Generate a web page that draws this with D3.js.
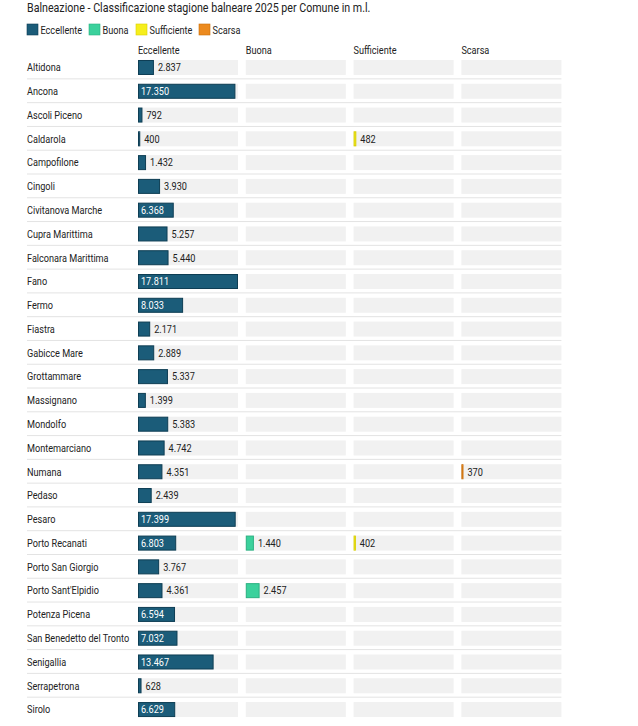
<!DOCTYPE html>
<html>
<head>
<meta charset="utf-8">
<title>Balneazione</title>
<script src="https://cdn.jsdelivr.net/npm/d3@7"></script>
<style>
  body { margin: 0; background: #fff; font-family: Roboto, "Noto Sans", sans-serif; }
  svg text { fill: #222; }
</style>
</head>
<body>
<script>
// data (metri lineari)
var comuni = ["Altidona", "Ancona", "Ascoli Piceno", "Caldarola", "Campofilone", "Cingoli",
  "Civitanova Marche", "Cupra Marittima", "Falconara Marittima", "Fano", "Fermo", "Fiastra",
  "Gabicce Mare", "Grottammare", "Massignano", "Mondolfo", "Montemarciano", "Numana",
  "Pedaso", "Pesaro", "Porto Recanati", "Porto San Giorgio", "Porto Sant'Elpidio",
  "Potenza Picena", "San Benedetto del Tronto", "Senigallia", "Serrapetrona", "Sirolo"];
var eccellente = [2837, 17350, 792, 400, 1432, 3930, 6368, 5257, 5440, 17811, 8033, 2171,
  2889, 5337, 1399, 5383, 4742, 4351, 2439, 17399, 6803, 3767, 4361, 6594, 7032, 13467, 628, 6629];
var buona = [0, 0, 0, 0, 0, 0, 0, 0, 0, 0, 0, 0, 0, 0, 0, 0, 0, 0, 0, 0, 1440, 0, 2457, 0, 0, 0, 0, 0];
var sufficiente = [0, 0, 0, 482, 0, 0, 0, 0, 0, 0, 0, 0, 0, 0, 0, 0, 0, 0, 0, 0, 402, 0, 0, 0, 0, 0, 0, 0];
var scarsa = [0, 0, 0, 0, 0, 0, 0, 0, 0, 0, 0, 0, 0, 0, 0, 0, 0, 370, 0, 0, 0, 0, 0, 0, 0, 0, 0, 0];
var categorie = ["Eccellente", "Buona", "Sufficiente", "Scarsa"];

var series = [eccellente, buona, sufficiente, scarsa];
var fills = ["#1b5c79", "#3bd19c", "#f6ee1c", "#ec8a1e"];
var strokes = ["#0e3e54", "#2bb282", "#d9cf00", "#c96f0c"];

var w = 638, h = 726;
var left = 27, colStart = 138, colW = 100, colGap = 7.8;
var topY = 55.6, step = 23.78, barH = 15;
var squeeze = 0.87; // the lettering in the source is narrow

var it = d3.formatLocale({ decimal: ",", thousands: ".", grouping: [3], currency: ["€", ""] });
var fmt = it.format(",d");

// place a text at x, squeezed horizontally
function atX(sel, xf, k) {
  k = k || squeeze;
  sel.attr("transform", "scale(" + k + ",1)")
    .attr("x", function (d, i) { return (typeof xf === "function" ? xf(d, i) : xf) / k; });
}

var svg = d3.select("body").append("svg").attr("width", w).attr("height", h);

svg.append("text")
  .attr("y", 12)
  .attr("font-size", 12)
  .text("Balneazione - Classificazione stagione balneare 2025 per Comune in m.l.")
  .call(atX, left, 0.89);

// legend
var legX = [27, 89, 136, 199];
var leg = svg.selectAll("g.leg").data(categorie).enter().append("g")
  .attr("class", "leg")
  .attr("transform", function (d, i) { return "translate(" + legX[i] + ",24)"; });
leg.append("rect")
  .attr("width", 11).attr("height", 11)
  .attr("fill", function (d, i) { return fills[i]; })
  .attr("stroke", function (d, i) { return strokes[i]; })
  .attr("stroke-width", 0.6);
leg.append("text")
  .attr("y", 9.5)
  .attr("font-size", 10.5)
  .text(function (d) { return d; })
  .call(atX, 13.5);

var y = d3.scaleBand().domain(comuni).range([topY, topY + step * comuni.length]);
var col = d3.scaleBand().domain(categorie)
  .range([colStart, colStart + 4 * colW + 3 * colGap])
  .paddingInner(colGap / (colW + colGap));
var max = d3.max(series, function (s) { return d3.max(s); });
var x = d3.scaleLinear().domain([0, max]).range([0, col.bandwidth()]);

// column headers
svg.selectAll("text.head").data(categorie).enter().append("text")
  .attr("class", "head")
  .attr("y", 54)
  .attr("font-size", 10.5)
  .text(function (d) { return d; })
  .call(atX, function (d) { return col(d); });

// row separators
svg.selectAll("line.sep").data(comuni.slice(1)).enter().append("line")
  .attr("class", "sep")
  .attr("x1", left).attr("x2", col.range()[1])
  .attr("y1", function (d) { return y(d) - 0.5; })
  .attr("y2", function (d) { return y(d) - 0.5; })
  .attr("stroke", "#e3e3e3").attr("stroke-width", 1);

var rows = svg.selectAll("g.row").data(comuni).enter().append("g")
  .attr("class", "row")
  .attr("transform", function (d) { return "translate(0," + (y(d) + y.bandwidth() / 2) + ")"; });

rows.append("text")
  .attr("y", 3.8)
  .attr("font-size", 10.5)
  .text(function (d) { return d; })
  .call(atX, left);

categorie.forEach(function (cat, k) {
  var cx = col(cat);
  rows.append("rect")
    .attr("x", cx).attr("y", -barH / 2)
    .attr("width", col.bandwidth()).attr("height", barH)
    .attr("fill", "#f1f1f1");

  rows.each(function (d, i) {
    var v = series[k][i];
    if (!v) return;
    var g = d3.select(this);
    var bw = x(v);
    g.append("rect")
      .attr("x", cx + 0.5).attr("y", -barH / 2 + 0.5)
      .attr("width", Math.max(bw - 1, 1)).attr("height", barH - 1)
      .attr("fill", fills[k])
      .attr("stroke", strokes[k]).attr("stroke-width", 1);
    var inside = bw > 33;
    g.append("text")
      .attr("y", 3.8)
      .attr("font-size", 10.5)
      .style("fill", inside ? "#fff" : "#222")
      .text(fmt(v))
      .call(atX, inside ? cx + 3 : cx + bw + 4);
  });
});
</script>
</body>
</html>
